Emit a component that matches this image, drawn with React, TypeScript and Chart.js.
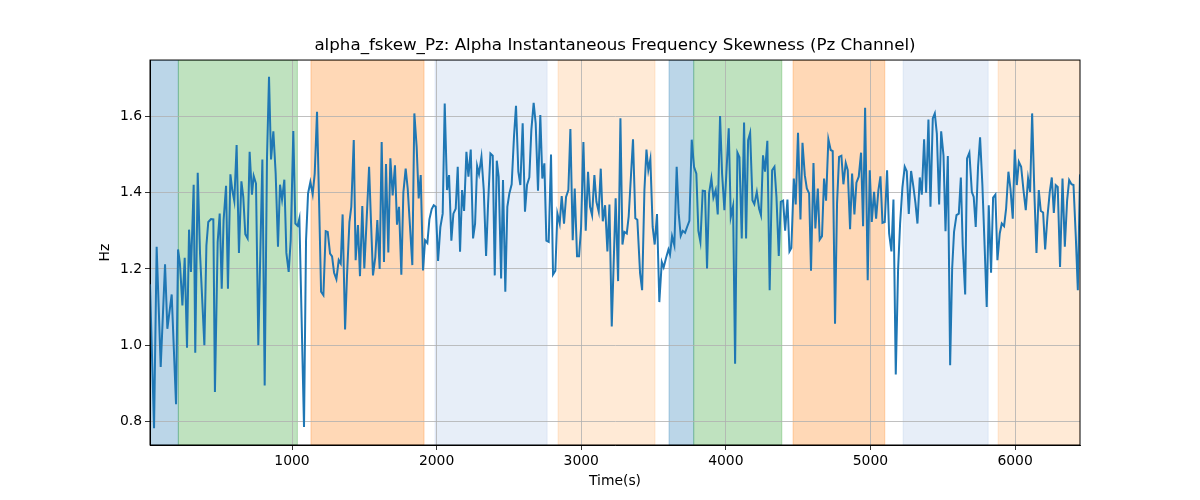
import { useEffect, useRef } from "react"
import { Chart, registerables } from "chart.js"

Chart.register(...registerables)

const chartTitle = "alpha_fskew_Pz: Alpha Instantaneous Frequency Skewness (Pz Channel)"

// sample times (s) and skewness values (Hz)
const times = [
  18, 46, 64, 92, 122, 138, 168, 198, 212, 225, 242, 258, 274, 288, 301, 320, 331, 348, 364, 394,
  408, 421, 440, 456, 467, 486, 500, 514, 527, 544, 557, 574, 587, 601, 617, 633, 650, 663, 677, 693,
  707, 723, 735, 751, 767, 795, 811, 827, 841, 855, 871, 887, 903, 917, 931, 947, 961, 977, 991, 1009,
  1023, 1039, 1051, 1083, 1097, 1111, 1127, 1143, 1157, 1173, 1187, 1201, 1217, 1233, 1247, 1263, 1277, 1291, 1307, 1323,
  1337, 1350, 1367, 1380, 1397, 1410, 1427, 1440, 1456, 1470, 1486, 1500, 1516, 1533, 1546, 1560, 1576, 1590, 1606, 1620,
  1636, 1650, 1666, 1680, 1696, 1712, 1726, 1740, 1756, 1770, 1786, 1800, 1816, 1832, 1846, 1862, 1876, 1890, 1906, 1920,
  1936, 1950, 1966, 1980, 1994, 2010, 2026, 2042, 2056, 2072, 2086, 2102, 2116, 2132, 2146, 2162, 2176, 2190, 2206, 2220,
  2236, 2252, 2266, 2280, 2293, 2310, 2326, 2342, 2356, 2372, 2388, 2402, 2416, 2429, 2446, 2459, 2475, 2489, 2503, 2519,
  2535, 2549, 2565, 2579, 2595, 2611, 2625, 2641, 2655, 2671, 2685, 2701, 2717, 2731, 2745, 2759, 2775, 2791, 2805, 2821,
  2835, 2851, 2865, 2881, 2895, 2911, 2925, 2941, 2955, 2971, 2985, 2999, 3015, 3031, 3047, 3061, 3075, 3091, 3105, 3121,
  3135, 3149, 3165, 3181, 3195, 3211, 3238, 3255, 3271, 3285, 3298, 3315, 3328, 3358, 3374, 3388, 3407, 3421, 3437, 3451,
  3464, 3478, 3494, 3508, 3524, 3540, 3557, 3570, 3587, 3603, 3614, 3628, 3644, 3660, 3674, 3688, 3702, 3718, 3732, 3748,
  3764, 3780, 3796, 3810, 3824, 3840, 3856, 3870, 3884, 3900, 3914, 3930, 3944, 3960, 3974, 3990, 4020, 4034, 4050, 4064,
  4080, 4094, 4110, 4126, 4140, 4154, 4168, 4184, 4197, 4214, 4230, 4243, 4257, 4271, 4287, 4303, 4320, 4336, 4350, 4366,
  4380, 4396, 4410, 4426, 4440, 4453, 4470, 4483, 4499, 4516, 4530, 4546, 4560, 4576, 4589, 4606, 4619, 4636, 4649, 4665,
  4679, 4693, 4709, 4725, 4739, 4755, 4769, 4783, 4799, 4813, 4829, 4843, 4859, 4873, 4889, 4903, 4919, 4935, 4949, 4963,
  4981, 4995, 5009, 5025, 5039, 5055, 5069, 5083, 5099, 5115, 5129, 5145, 5159, 5175, 5191, 5205, 5221, 5237, 5251, 5265,
  5281, 5297, 5311, 5325, 5341, 5355, 5371, 5385, 5401, 5415, 5431, 5445, 5459, 5475, 5489, 5505, 5519, 5535, 5551, 5565,
  5578, 5595, 5611, 5625, 5638, 5655, 5668, 5684, 5701, 5714, 5728, 5744, 5758, 5774, 5788, 5804, 5818, 5834, 5848, 5864,
  5878, 5894, 5908, 5924, 5938, 5954, 5968, 5984, 5998, 6012, 6026, 6042, 6058, 6074, 6090, 6104, 6118, 6134, 6148, 6164,
  6178, 6194, 6208, 6224, 6240, 6254, 6268, 6281, 6295, 6311, 6328, 6344, 6360, 6374, 6390, 6404, 6420, 6434, 6449,
]

const values = [
  1.16, 0.782, 1.258, 0.943, 1.212, 1.043, 1.133, 0.845, 1.251, 1.214, 1.104, 1.229, 0.993, 1.303, 1.192, 1.421, 0.98, 1.452, 1.24, 1.0,
  1.261, 1.323, 1.331, 1.33, 0.877, 1.271, 1.345, 1.148, 1.328, 1.418, 1.148, 1.448, 1.407, 1.378, 1.525, 1.242, 1.43, 1.389, 1.291, 1.28,
  1.507, 1.395, 1.444, 1.424, 1.0, 1.487, 0.894, 1.49, 1.704, 1.487, 1.561, 1.45, 1.258, 1.421, 1.382, 1.434, 1.242, 1.192, 1.275, 1.562,
  1.319, 1.313, 1.332, 0.785, 1.275, 1.398, 1.428, 1.396, 1.45, 1.612, 1.38, 1.14, 1.131, 1.299, 1.297, 1.24, 1.233, 1.19, 1.173, 1.223,
  1.214, 1.343, 1.041, 1.179, 1.323, 1.363, 1.538, 1.223, 1.315, 1.181, 1.365, 1.201, 1.328, 1.468, 1.326, 1.183, 1.231, 1.328, 1.2, 1.533,
  1.218, 1.475, 1.243, 1.49, 1.393, 1.472, 1.316, 1.363, 1.185, 1.4, 1.463, 1.411, 1.31, 1.21, 1.608, 1.52, 1.385, 1.446, 1.196, 1.275,
  1.268, 1.33, 1.357, 1.367, 1.363, 1.221, 1.31, 1.345, 1.634, 1.407, 1.446, 1.274, 1.345, 1.358, 1.468, 1.245, 1.407, 1.352, 1.507, 1.442,
  1.513, 1.28, 1.319, 1.47, 1.449, 1.494, 1.407, 1.234, 1.372, 1.503, 1.497, 1.183, 1.484, 1.442, 1.175, 1.433, 1.14, 1.363, 1.398, 1.422,
  1.547, 1.628, 1.455, 1.42, 1.582, 1.35, 1.42, 1.44, 1.564, 1.636, 1.582, 1.405, 1.604, 1.437, 1.477, 1.274, 1.271, 1.5, 1.185, 1.195,
  1.345, 1.319, 1.391, 1.319, 1.389, 1.407, 1.567, 1.275, 1.411, 1.233, 1.233, 1.31, 1.533, 1.3, 1.455, 1.363, 1.341, 1.446, 1.376, 1.35,
  1.463, 1.325, 1.367, 1.246, 1.369, 1.049, 1.385, 1.168, 1.595, 1.264, 1.297, 1.293, 1.337, 1.54, 1.333, 1.329, 1.188, 1.144, 1.407, 1.513,
  1.459, 1.488, 1.31, 1.264, 1.344, 1.113, 1.218, 1.204, 1.229, 1.251, 1.238, 1.286, 1.262, 1.468, 1.345, 1.287, 1.3, 1.295, 1.31, 1.326,
  1.539, 1.468, 1.45, 1.3, 1.271, 1.405, 1.404, 1.201, 1.398, 1.437, 1.387, 1.407, 1.343, 1.601, 1.45, 1.354, 1.569, 1.336, 1.365, 0.951,
  1.505, 1.493, 1.28, 1.584, 1.28, 1.538, 1.557, 1.38, 1.37, 1.402, 1.358, 1.341, 1.498, 1.455, 1.536, 1.144, 1.459, 1.468, 1.389, 1.234,
  1.376, 1.379, 1.3, 1.382, 1.246, 1.255, 1.437, 1.369, 1.557, 1.33, 1.531, 1.446, 1.411, 1.398, 1.195, 1.478, 1.306, 1.411, 1.277, 1.286,
  1.437, 1.379, 1.54, 1.512, 1.509, 1.056, 1.372, 1.494, 1.497, 1.422, 1.478, 1.459, 1.304, 1.45, 1.343, 1.426, 1.442, 1.505, 1.312, 1.623,
  1.17, 1.459, 1.323, 1.402, 1.332, 1.407, 1.443, 1.321, 1.323, 1.459, 1.293, 1.246, 1.382, 0.923, 1.198, 1.319, 1.414, 1.468, 1.456, 1.344,
  1.457, 1.415, 1.373, 1.319, 1.44, 1.395, 1.54, 1.4, 1.592, 1.363, 1.595, 1.608, 1.555, 1.369, 1.561, 1.498, 1.299, 1.496, 0.947, 1.201,
  1.297, 1.341, 1.345, 1.44, 1.262, 1.133, 1.49, 1.505, 1.402, 1.389, 1.31, 1.468, 1.545, 1.42, 1.275, 1.1, 1.367, 1.19, 1.387, 1.395,
  1.223, 1.293, 1.319, 1.312, 1.358, 1.455, 1.411, 1.332, 1.513, 1.42, 1.481, 1.468, 1.407, 1.354, 1.437, 1.402, 1.608, 1.393, 1.242, 1.407,
  1.352, 1.348, 1.251, 1.337, 1.402, 1.44, 1.347, 1.42, 1.415, 1.205, 1.437, 1.258, 1.38, 1.433, 1.422, 1.42, 1.284, 1.144, 1.448,
]

const xTicks = [1000, 2000, 3000, 4000, 5000, 6000]
const yTicks = [0.8, 1.0, 1.2, 1.4, 1.6]

// shaded segments behind the trace
const bandStarts = [18, 214, 1131, 1989, 2840, 3607, 3778, 4465, 5226, 5883]
const bandEnds = [214, 1037, 1913, 2764, 3510, 3778, 4387, 5099, 5814, 6449]
const bandColors = [
  "rgba(31, 119, 180, 0.3)",
  "rgba(44, 160, 44, 0.3)",
  "rgba(255, 127, 14, 0.3)",
  "rgba(174, 199, 232, 0.3)",
  "rgba(255, 187, 120, 0.3)",
  "rgba(31, 119, 180, 0.3)",
  "rgba(44, 160, 44, 0.3)",
  "rgba(255, 127, 14, 0.3)",
  "rgba(174, 199, 232, 0.3)",
  "rgba(255, 187, 120, 0.3)",
]

const FONT = "'DejaVu Sans', sans-serif"

const bandsPlugin = {
  id: "bands",
  beforeDraw(chart: any) {
    const { ctx, chartArea, scales } = chart
    ctx.save()
    ctx.beginPath()
    ctx.rect(chartArea.left, chartArea.top, chartArea.right - chartArea.left, chartArea.bottom - chartArea.top)
    ctx.clip()
    bandStarts.forEach((start, i) => {
      const x0 = scales.x.getPixelForValue(start)
      const x1 = scales.x.getPixelForValue(bandEnds[i])
      ctx.fillStyle = bandColors[i]
      ctx.fillRect(x0, chartArea.top, x1 - x0, chartArea.bottom - chartArea.top)
      ctx.strokeStyle = bandColors[i]
      ctx.lineWidth = 1
      ctx.strokeRect(x0, chartArea.top, x1 - x0, chartArea.bottom - chartArea.top)
    })
    ctx.restore()
  },
  afterDraw(chart: any) {
    const { ctx, chartArea } = chart
    ctx.save()
    ctx.strokeStyle = "#000"
    ctx.lineWidth = 1
    ctx.strokeRect(chartArea.left, chartArea.top, chartArea.right - chartArea.left, chartArea.bottom - chartArea.top)
    ctx.restore()
  },
}

export default function App() {
  const chartRef = useRef<HTMLCanvasElement>(null)
  const chartInstance = useRef<Chart | null>(null)

  useEffect(() => {
    if (!chartRef.current) return
    if (chartInstance.current) chartInstance.current.destroy()

    const ctx = chartRef.current.getContext("2d")
    if (!ctx) return

    const tickFont = { family: FONT, size: 13.9 }

    const config: any = {
      type: "line",
      data: {
        datasets: [
          {
            data: times.map((t, i) => ({ x: t, y: values[i] })),
            borderColor: "#1f77b4",
            borderWidth: 2,
            pointRadius: 0,
            tension: 0,
            fill: false,
          },
        ],
      },
      options: {
        responsive: false,
        animation: false,
        devicePixelRatio: 1,
        layout: { padding: { left: 0, right: 120, top: 0, bottom: 0 } },
        plugins: {
          legend: { display: false },
          tooltip: { enabled: false },
          title: {
            display: true,
            fullSize: false,
            text: chartTitle,
            color: "#000",
            font: { family: FONT, size: 16.7, weight: "normal" },
            padding: { top: 36, bottom: 4 },
          },
        },
        scales: {
          x: {
            type: "linear",
            min: 18,
            max: 6449,
            afterFit: (scale: any) => {
              scale.height = 55
            },
            afterBuildTicks: (scale: any) => {
              scale.ticks = xTicks.map((value) => ({ value }))
            },
            ticks: {
              color: "#000",
              font: tickFont,
              padding: 3,
              maxRotation: 0,
              callback: (v: any) => String(v),
            },
            grid: { color: "#b0b0b0", lineWidth: 0.8, tickColor: "#000", tickLength: 5 },
            border: { display: true, color: "#000", width: 1 },
            title: {
              display: true,
              text: "Time(s)",
              color: "#000",
              font: tickFont,
              padding: { top: 0, bottom: 10.7 },
            },
          },
          y: {
            min: 0.738,
            max: 1.748,
            afterFit: (scale: any) => {
              scale.width = 150
            },
            afterBuildTicks: (scale: any) => {
              scale.ticks = yTicks.map((value) => ({ value }))
            },
            ticks: {
              color: "#000",
              font: tickFont,
              padding: 3,
              callback: (v: any) => Number(v).toFixed(1),
            },
            grid: { color: "#b0b0b0", lineWidth: 0.8, tickColor: "#000", tickLength: 5 },
            border: { display: true, color: "#000", width: 1 },
            title: {
              display: true,
              text: "Hz",
              color: "#000",
              font: tickFont,
              padding: { top: 96.7, bottom: 0 },
            },
          },
        },
      },
      plugins: [bandsPlugin],
    }

    chartInstance.current = new Chart(ctx, config)

    return () => {
      if (chartInstance.current) {
        chartInstance.current.destroy()
        chartInstance.current = null
      }
    }
  }, [])

  return (
    <div style={{ position: "absolute", left: 0, top: 0, width: 1200, height: 500, background: "#fff" }}>
      <canvas ref={chartRef} width={1200} height={500} />
    </div>
  )
}
